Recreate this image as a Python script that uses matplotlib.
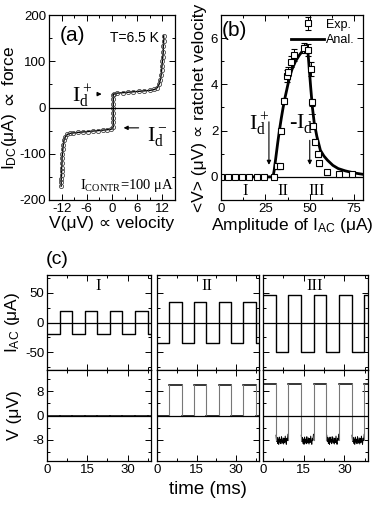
import numpy as np
import matplotlib
matplotlib.use("Agg")
import matplotlib.pyplot as plt
from matplotlib.ticker import MultipleLocator

plt.rcParams['font.family'] = ['Liberation Sans', 'DejaVu Sans']
plt.rcParams['mathtext.default'] = 'regular'
plt.rcParams['axes.unicode_minus'] = False

# (a) I-V curve, V in uV, I in uA
iv_v = [-12.1, -12.1, -12.1, -12.0, -12.0, -12.0, -11.9, -11.9, -11.8, -11.7, -11.6, -11.4,
        -11.1, -10.6, -10.0, -9.2, -8.2, -7.0, -5.8, -4.6, -3.4, -2.2, -1.1, -0.2,
        0.3, 0.3, 0.3, 0.3, 0.3, 0.3, 0.3, 0.3, 0.4, 1.2, 2.5, 3.8, 5.1, 6.4,
        7.7, 9.0, 10.1, 10.8, 11.2, 11.5, 11.7, 11.8, 11.9, 12.0, 12.1, 12.2, 12.2, 12.3, 12.3]
iv_i = [-170, -162, -154, -146, -138, -130, -120, -110, -100, -90, -80, -70,
        -63, -58, -56, -55, -54, -53, -52, -51, -50, -49, -48, -47,
        -42, -32, -22, -12, -2, 8, 18, 26, 29, 31, 32, 33, 34, 35,
        36, 37, 39, 43, 50, 60, 70, 80, 90, 100, 110, 120, 132, 144, 155]

# (b) ratchet velocity vs AC amplitude
exp_amp = [0, 4, 8, 12, 16, 20, 24.5, 29.8, 31.5, 33, 33.8, 35.5, 37.0, 37.5, 39.4, 41.3,
           46.9, 48.8, 50.7, 51.1, 52.0, 53.0, 54.5, 55.2, 59.5, 66.5, 74.0]
exp_v = [0, 0, 0, 0, 0, 0, 0, 0, 0.45, 0.45, 2.0, 3.27, 4.35, 4.55, 4.98, 5.28,
         5.59, 5.48, 4.67, 3.23, 2.2, 1.52, 0.99, 0.59, 0.2, 0.12, 0.12]
exp_err = [0, 0, 0, 0, 0, 0, 0, 0, 0.12, 0.12, 0.08, 0.12, 0.25, 0.2, 0.25, 0.25,
           0.22, 0.25, 0.3, 0.15, 0.1, 0.1, 0.12, 0.1, 0.1, 0.08, 0.08]
anal_amp = [0, 29.3, 30, 31, 32, 33, 34, 35, 36, 37, 38, 39, 40, 42, 44, 46, 48, 48.7,
            49.5, 50.5, 51.5, 52.5, 54, 56, 58, 60, 63, 66, 70, 75, 80]
anal_v = [0, 0, 0.3, 0.9, 1.5, 2.05, 2.55, 3.0, 3.4, 3.75, 4.1, 4.4, 4.65, 5.0, 5.25, 5.45,
          5.6, 5.65, 4.9, 3.9, 3.0, 2.35, 1.75, 1.15, 0.9, 0.72, 0.5, 0.36, 0.26, 0.17, 0.11]

# (c) time traces: switching times (ms) and levels
t_switch = [4.7, 9.3, 14.0, 18.7, 23.4, 28.0, 32.7, 37.4]
t_end = 38.7
iac_hi = [20, 35, 47]
iac_lo = [-20, -35, -50]
iac_start_high = [False, False, True]
v_hi = [0, 10, 10.5]
v_lo = [0, 0, -8]
v3_noise = [1.5, -0.5, 0.8, -1.2, 0.3, -1.5, 0.9, -0.8, 0.2, -1.3, 1.0, -0.4,
            -1.1, 0.6, -1.4, 0.4, -0.9, 1.2, -0.6, -1.5, 0.5, -0.2, 1.8]
roman = ['I', 'II', 'III']

fig = plt.figure(figsize=(3.82, 5.13), dpi=100)
W, H = 382, 513


def rect(l, t, r, b):
    return [l / W, 1 - b / H, (r - l) / W, (b - t) / H]


def style(ax):
    ax.tick_params(direction='in', which='both', top=True, right=True,
                   labelsize=9.5, pad=2, width=0.7)
    ax.tick_params(which='major', length=4)
    ax.tick_params(which='minor', length=2.5)
    for s in ax.spines.values():
        s.set_linewidth(0.9)


serif = ['Liberation Serif', 'DejaVu Serif']

# panel (a)
axa = fig.add_axes(rect(49, 15, 175, 200))
style(axa)
axa.plot(iv_v, iv_i, '-', color='k', lw=1.0)
axa.plot(iv_v, iv_i, 'o', mfc='none', mec='#444', ms=3.0, mew=0.6)
axa.axhline(0, color='k', lw=0.9)
axa.set_xlim(-15, 15)
axa.set_ylim(-200, 200)
axa.xaxis.set_minor_locator(MultipleLocator(3))
axa.yaxis.set_major_locator(MultipleLocator(100))
axa.yaxis.set_minor_locator(MultipleLocator(50))
axa.set_xticks([-12, -6, 0, 6, 12])
axa.set_xlabel('V(μV) ∝ velocity', fontsize=12.5, labelpad=1)
axa.set_ylabel(r'I$_{DC}$(μA) $\propto$ force', fontsize=12.5)
axa.yaxis.set_label_coords(-0.235, 0.5)
axa.text(-9.5, 155, '(a)', fontsize=15, ha='center', va='center')
axa.text(5.4, 151, 'T=6.5 K', fontsize=10, ha='center', va='center')
axa.text(-9.6, 25, 'I$_d^+$', fontsize=16, family=serif, ha='left', va='center')
axa.annotate('', xy=(-1.8, 29), xytext=(-4.2, 29),
             arrowprops=dict(arrowstyle='-|>', color='k', lw=0.8, mutation_scale=6))
axa.text(8.4, -62, 'I$_d^-$', fontsize=16, family=serif, ha='left', va='center')
axa.annotate('', xy=(2.1, -44), xytext=(7.0, -44),
             arrowprops=dict(arrowstyle='-|>', color='k', lw=0.8, mutation_scale=6))
axa.text(14.8, -168, 'I$_{CONTR}$=100 μA', fontsize=10.5, family=serif,
         ha='right', va='center')

# panel (b)
axb = fig.add_axes(rect(221, 15, 363, 200))
style(axb)
axb.axhline(0, color='k', lw=0.9)
axb.plot(anal_amp, anal_v, '-', color='k', lw=2.0, label='Anal.')
axb.errorbar(exp_amp, exp_v, yerr=exp_err, fmt='s', mfc='white', mec='k', ecolor='k',
             ms=4.5, mew=0.8, elinewidth=0.7, capsize=2, capthick=0.7, label='Exp.')
axb.set_xlim(0, 80)
axb.set_ylim(-1, 7)
axb.xaxis.set_major_locator(MultipleLocator(25))
axb.xaxis.set_minor_locator(MultipleLocator(12.5))
axb.yaxis.set_minor_locator(MultipleLocator(1))
axb.set_yticks([0, 2, 4, 6])
axb.set_xlabel('Amplitude of I$_{AC}$ (μA)', fontsize=12.5, labelpad=1)
axb.set_ylabel('<V> (μV) ∝ ratchet velocity', fontsize=12.5)
axb.yaxis.set_label_coords(-0.1, 0.5)
h, l = axb.get_legend_handles_labels()
axb.legend(h[::-1], l[::-1], loc='upper right', frameon=False, fontsize=9,
           handlelength=2.6, handletextpad=0.2, borderaxespad=0.1, labelspacing=0.3,
           borderpad=0.2, bbox_to_anchor=(0.97, 1.0))
axb.text(7.6, 6.35, '(b)', fontsize=15, ha='center', va='center')
axb.text(16, 2.3, 'I$_d^+$', fontsize=16, family=serif, ha='left', va='center')
axb.annotate('', xy=(27, 0.4), xytext=(27, 2.5),
             arrowprops=dict(arrowstyle='-|>', color='k', lw=0.8, mutation_scale=6))
axb.text(38.5, 2.3, '-I$_d^-$', fontsize=16, family=serif, ha='left', va='center')
axb.annotate('', xy=(50, 0.4), xytext=(50, 1.7),
             arrowprops=dict(arrowstyle='-|>', color='k', lw=0.8, mutation_scale=6))
for x, r in zip([13.5, 35, 54], roman):
    axb.text(x, -0.6, r, fontsize=12, family=serif, ha='center', va='center')

# panel (c)
cols = [(47, 151), (157, 259), (263, 368)]
for k, (l, r) in enumerate(cols):
    axt = fig.add_axes(rect(l, 275, r, 370))
    axv = fig.add_axes(rect(l, 370, r, 461))
    edges = [0] + t_switch + [t_end]
    high = iac_start_high[k]
    t_pts, i_pts, v_pts = [], [], []
    for a, b in zip(edges[:-1], edges[1:]):
        t_pts += [a, b]
        i_pts += [iac_hi[k] if high else iac_lo[k]] * 2
        if high or k < 2:
            v_pts += [v_hi[k] if high else v_lo[k]] * 2
            axv.plot([a, b], [v_pts[-1]] * 2, color='k', lw=1.1)
        else:
            tt = np.linspace(a + 0.1, b - 0.1, len(v3_noise))
            axv.plot(tt, np.array(v3_noise) + v_lo[k], color='k', lw=0.7)
            v_pts += [v_lo[k]] * 2
        high = not high
    axt.plot(t_pts, i_pts, color='k', lw=1.0)
    # vertical edges of voltage trace
    for j, ts in enumerate(t_switch):
        axv.plot([ts, ts], [v_pts[2 * j + 1], v_pts[2 * j + 2]], color='#777', lw=0.8)
    axt.axhline(0, color='k', lw=0.9)
    axv.axhline(0, color='k', lw=0.9)
    for ax in (axt, axv):
        style(ax)
        ax.set_xlim(0, t_end)
        ax.xaxis.set_major_locator(MultipleLocator(15))
        ax.xaxis.set_minor_locator(MultipleLocator(7.5))
    axt.set_ylim(-80, 80)
    axt.yaxis.set_major_locator(MultipleLocator(50))
    axt.yaxis.set_minor_locator(MultipleLocator(25))
    axv.set_ylim(-15, 15)
    axv.yaxis.set_major_locator(MultipleLocator(8))
    axv.yaxis.set_minor_locator(MultipleLocator(4))
    axt.tick_params(labelbottom=False)
    axt.text(19, 62, roman[k], fontsize=12, family=serif, ha='center', va='center')
    if k == 0:
        axt.set_ylabel('I$_{AC}$ (μA)', fontsize=12.5)
        axv.set_ylabel('V (μV)', fontsize=12.5)
        axt.yaxis.set_label_coords(-0.24, 0.5)
        axv.yaxis.set_label_coords(-0.24, 0.5)
    else:
        axt.tick_params(labelleft=False)
        axv.tick_params(labelleft=False)
    if k == 1:
        axv.set_xlabel('time (ms)', fontsize=13.5, labelpad=4)

fig.text(57 / W, 1 - 260 / H, '(c)', fontsize=14, ha='center', va='center')

fig.savefig('out.png', dpi=100)
